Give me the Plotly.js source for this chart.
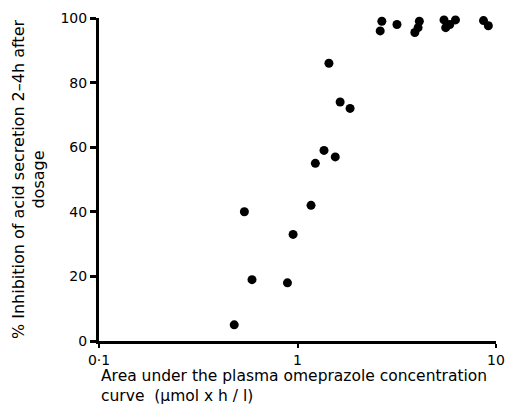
<!DOCTYPE html>
<html>
<head>
<meta charset="utf-8">
<script src="https://cdn.plot.ly/plotly-3.0.1.min.js"></script>
<style>html,body{margin:0;padding:0;background:#fff;}#chart{width:505px;height:408px;}</style>
</head>
<body>
<div id="chart"></div>
<script>
// AUC of plasma omeprazole (µmol x h / l)
var auc = [0.48, 0.54, 0.59, 0.89, 0.95, 1.17, 1.23, 1.36, 1.44, 1.55, 1.64, 1.84,
           2.66, 2.61, 3.17, 4.11, 4.05, 3.90, 5.47, 5.58, 5.85, 6.25, 8.65, 9.15];
// % inhibition of acid secretion 2-4 h after dosage
var inhibition = [5, 40, 19, 18, 33, 42, 55, 59, 86, 57, 74, 72,
                  99, 96, 98, 99, 97, 95.5, 99.4, 97, 98, 99.4, 99.2, 97.6];
var xTickVals = [0.1, 1, 10];
var xTickText = ["0·1", "1", "10"];
var yTickVals = [0, 20, 40, 60, 80, 100];

var fontFam = "DejaVu Sans, sans-serif";
var trace = {
  x: auc, y: inhibition, type: "scatter", mode: "markers",
  marker: {color: "#000", size: 9},
  cliponaxis: false, hoverinfo: "none"
};
var layout = {
  width: 505, height: 408,
  margin: {l: 99, r: 9, t: 18, b: 67},
  paper_bgcolor: "#fff", plot_bgcolor: "#fff",
  showlegend: false,
  font: {family: fontFam, size: 14, color: "#000"},
  xaxis: {
    type: "log", range: [-1, 1],
    tickvals: xTickVals, ticktext: xTickText,
    ticks: "outside", ticklen: 4, tickwidth: 2, tickcolor: "#000",
    showline: true, linewidth: 3, linecolor: "#000",
    showgrid: false, zeroline: false, automargin: false,
    ticklabeloverflow: "allow",
    tickfont: {family: fontFam, size: 14, color: "#000"}
  },
  yaxis: {
    range: [0, 100], tickvals: yTickVals,
    ticks: "outside", ticklen: 6, tickwidth: 3, tickcolor: "#000",
    showline: true, linewidth: 3, linecolor: "#000",
    showgrid: false, zeroline: false,
    tickfont: {family: fontFam, size: 14, color: "#000"},
    title: {text: "% Inhibition of acid secretion 2–4h after<br>dosage", standoff: 12,
            font: {family: fontFam, size: 16, color: "#000"}}
  },
  annotations: [{
    xref: "paper", yref: "paper", x: 0, y: 0, xanchor: "left", yanchor: "top",
    yshift: -24, align: "left", showarrow: false,
    text: "Area under the plasma omeprazole concentration<br>curve  (μmol x h / l)",
    font: {family: fontFam, size: 15.5, color: "#000"}
  }]
};
Plotly.newPlot("chart", [trace], layout, {staticPlot: true, displayModeBar: false});
</script>
</body>
</html>
